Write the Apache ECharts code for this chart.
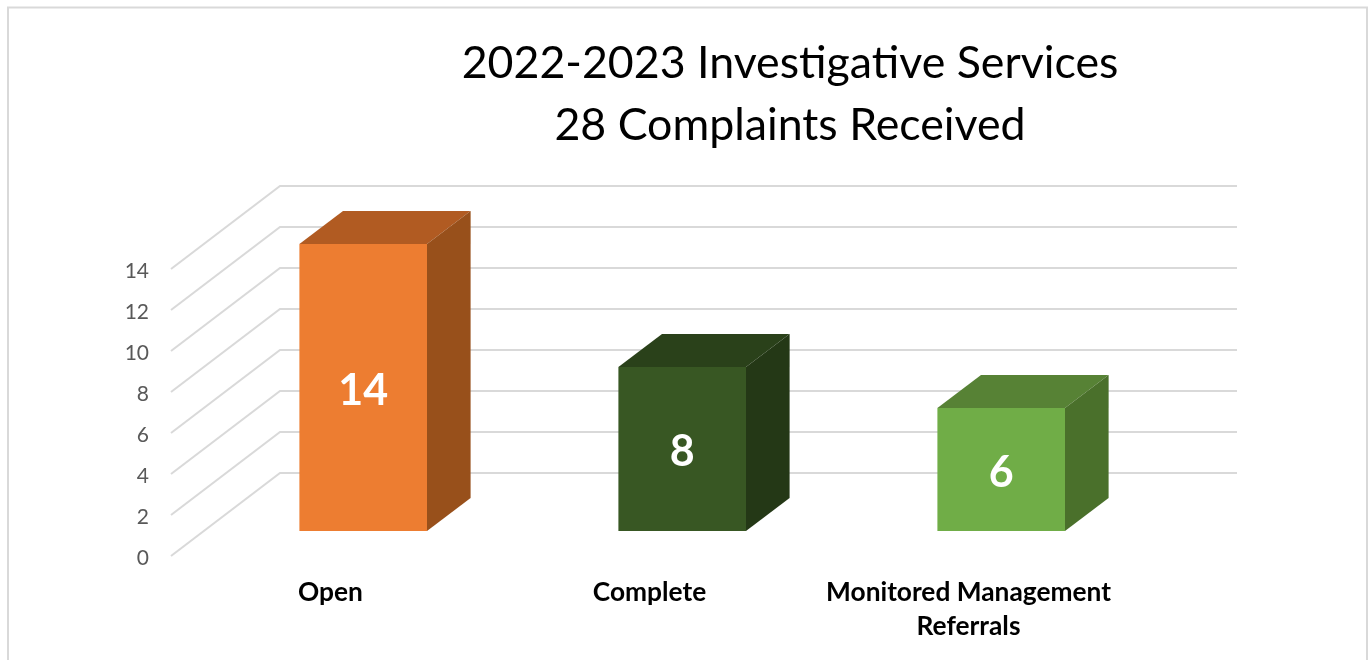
<!DOCTYPE html>
<html>
<head>
<meta charset="utf-8">
<style>html,body{margin:0;padding:0;background:#fff}#c{width:1370px;height:660px}</style>
<script src="https://cdn.jsdelivr.net/npm/echarts@6/dist/echarts.min.js"></script>
</head>
<body>
<div id="c"></div>
<script>
const titleText = "2022-2023 Investigative Services\n28 Complaints Received";
const categories = ["Open", "Complete", "Monitored Management\nReferrals"];
const values = [14, 8, 6];
const yTicks = [0, 2, 4, 6, 8, 10, 12, 14];
const frontColors = ["#ED7D31", "#385723", "#70AD47"];
const topColors = ["#B15B22", "#2A411A", "#578235"];
const sideColors = ["#98501B", "#243816", "#4A702B"];

const FONT = "Lato";
const DX = 109, DY = -83;          // wall depth in px
const T0 = 0.30, T1 = 0.70;        // bar depth range
const BAR = 0.4;                   // bar width relative to band

const chart = echarts.init(document.getElementById("c"), null, {renderer: "canvas"});
chart.setOption({
  animation: false,
  backgroundColor: "#fff",
  title: {
    text: titleText, left: 785, top: 28, textAlign: "center",
    textStyle: {fontFamily: FONT, fontSize: 44.7, fontWeight: "normal", color: "#000", lineHeight: 62}
  },
  graphic: [{
    type: "polyline", silent: true,
    shape: {points: [[8, 660], [8, 7.5], [1367, 7.5], [1367, 660]]},
    style: {fill: null, stroke: "#D9D9D9", lineWidth: 2}
  }],
  grid: {left: 171, top: 269, width: 957, height: 287, containLabel: false},
  xAxis: {
    type: "category", data: categories,
    axisLine: {show: false}, axisTick: {show: false}, splitLine: {show: false},
    axisLabel: {interval: 0, margin: 20, fontFamily: FONT, fontSize: 26.3, fontWeight: "bold", color: "#000", lineHeight: 34}
  },
  yAxis: {
    type: "value", min: 0, max: 14, interval: 2,
    axisLine: {show: false}, axisTick: {show: false}, splitLine: {show: false},
    axisLabel: {
      margin: 22, formatter: "{v|{value}}",
      rich: {v: {fontFamily: FONT, fontSize: 21, color: "#595959", padding: [5, 0, 0, 0]}}
    }
  },
  series: [
    {
      type: "custom", z: 1, silent: true, clip: false,
      data: yTicks.map(t => [0, t]),
      encode: {x: 0, y: 1},
      renderItem(params, api) {
        const y = api.coord([0, api.value(1)])[1];
        const cs = params.coordSys;
        const x0 = cs.x, x1 = cs.x + DX, x2 = cs.x + cs.width + DX;
        const st = {stroke: "#D9D9D9", lineWidth: 2, fill: null};
        return {
          type: "polyline",
          shape: {points: [[x0, y], [x1, y + DY], [x2, y + DY]]},
          style: st
        };
      }
    },
    {
      type: "custom", z: 2, silent: true, clip: false,
      data: values.map((v, i) => [i, v]),
      encode: {x: 0, y: 1},
      renderItem(params, api) {
        const i = api.value(0);
        const top = api.coord([i, api.value(1)]);
        const base = api.coord([i, 0]);
        const w = api.size([1, 0])[0] * BAR;
        const fx = top[0] - w / 2 + T0 * DX, fy = T0 * DY;
        const dx = (T1 - T0) * DX, dy = (T1 - T0) * DY;
        const L = fx, R = fx + w, Tp = top[1] + fy, B = base[1] + fy;
        return {
          type: "group",
          children: [
            {type: "rect", shape: {x: L, y: Tp, width: w, height: B - Tp}, style: {fill: frontColors[i]}},
            {type: "polygon", shape: {points: [[L, Tp], [L + dx, Tp + dy], [R + dx, Tp + dy], [R, Tp]]}, style: {fill: topColors[i]}},
            {type: "polygon", shape: {points: [[R, Tp], [R + dx, Tp + dy], [R + dx, B + dy], [R, B]]}, style: {fill: sideColors[i]}},
            {type: "text", x: (L + R) / 2, y: (Tp + B) / 2 + 3.5,
             style: {text: String(api.value(1)), fill: "#fff", fontFamily: FONT, fontSize: 43, fontWeight: "bold", align: "center", verticalAlign: "middle"}}
          ]
        };
      }
    }
  ]
});
</script>
</body>
</html>
